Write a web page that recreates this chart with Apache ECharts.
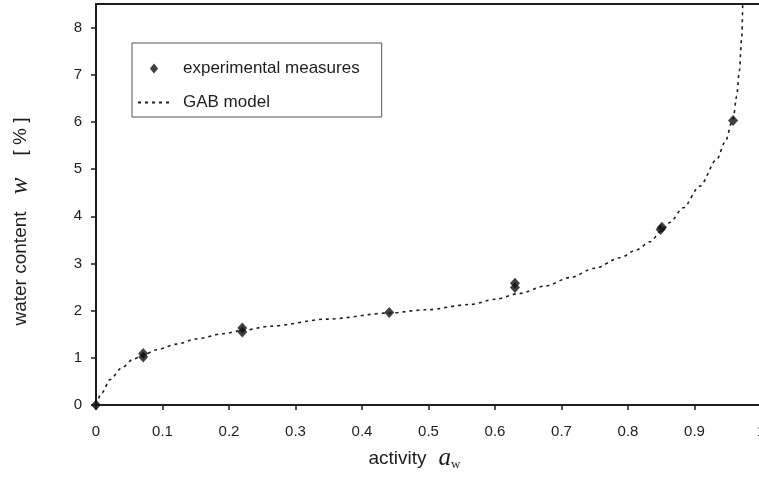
<!DOCTYPE html>
<html>
<head>
<meta charset="utf-8">
<script src="https://cdn.jsdelivr.net/npm/echarts@6/dist/echarts.min.js"></script>
<style>html,body{margin:0;padding:0;background:#fff}#c{width:759px;height:483px}</style>
</head>
<body>
<div id="c"></div>
<script>
// experimental measures [activity, water content %]
const measuresA = [0, 0.071, 0.071, 0.22, 0.22, 0.441, 0.63, 0.63, 0.849, 0.851, 0.958];
const measuresW = [0, 1.02, 1.09, 1.55, 1.63, 1.96, 2.49, 2.58, 3.72, 3.77, 6.03];
// GAB model curve
const modelA = [0, 0.009, 0.021, 0.039, 0.056, 0.071, 0.091, 0.121, 0.151, 0.191, 0.22, 0.262, 0.347, 0.441, 0.497, 0.5624, 0.600, 0.6376, 0.675, 0.7128, 0.75, 0.788, 0.813, 0.833, 0.851, 0.863, 0.883, 0.908, 0.934, 0.946, 0.958, 0.9635, 0.9674, 0.971, 0.9725];
const modelW = [0, 0.26, 0.54, 0.79, 0.97, 1.06, 1.17, 1.29, 1.40, 1.51, 1.58, 1.67, 1.82, 1.95, 2.02, 2.13, 2.24, 2.367, 2.52, 2.70, 2.90, 3.12, 3.29, 3.46, 3.70, 3.87, 4.18, 4.64, 5.22, 5.58, 6.06, 6.55, 7.08, 7.78, 8.5];
const xTicks = [0, 0.1, 0.2, 0.3, 0.4, 0.5, 0.6, 0.7, 0.8, 0.9, 1];
const yTicks = [0, 1, 2, 3, 4, 5, 6, 7, 8];

const chart = echarts.init(document.getElementById('c'));
const dark = '#1e1e1e';
const serif = 'Liberation Serif, Times New Roman, serif';
chart.setOption({
  animation: false,
  textStyle: { fontFamily: 'Liberation Sans, Arial, sans-serif', color: dark },
  grid: { left: 96, right: -2, top: 4, bottom: 78, containLabel: false, outerBoundsMode: 'none',
          show: true, borderColor: dark, borderWidth: 2, backgroundColor: 'transparent' },
  legend: {
    left: 132, top: 43, orient: 'vertical',
    padding: [17, 22, 6, 5],
    itemGap: 17, itemWidth: 32, itemHeight: 10,
    borderColor: '#555', borderWidth: 1,
    textStyle: { fontSize: 17, color: dark, padding: [0, 0, 0, 8] },
    data: [
      { name: 'experimental measures', icon: 'path://M5,0L9.5,5.5L5,11L0.5,5.5Z' },
      { name: 'GAB model', itemStyle: { opacity: 0 } }
    ]
  },
  xAxis: {
    type: 'value', min: 0, max: 1, interval: 0.1,
    name: 'activity{a|a}{w|w}', nameLocation: 'middle', nameGap: 41,
    nameTextStyle: {
      fontSize: 19, color: dark, padding: [0, 28, 0, 0],
      rich: {
        a: { fontFamily: serif, fontStyle: 'italic', fontSize: 25, padding: [0, 0, 0, 12], color: dark },
        w: { fontFamily: serif, fontSize: 13, verticalAlign: 'bottom', padding: [8, 0, 0, 0], color: dark }
      }
    },
    axisLine: { lineStyle: { color: dark, width: 2 } },
    axisTick: { show: true, inside: false, length: 5, lineStyle: { color: dark, width: 1.5 } },
    axisLabel: { fontSize: 15, color: dark, margin: 19, formatter: v => (xTicks.indexOf(+v.toFixed(1)) >= 0 ? String(+v.toFixed(1)) : '') },
    splitLine: { show: false }
  },
  yAxis: {
    type: 'value', min: 0, max: 8.5, interval: 1,
    name: 'water content {w|w}[ % ]', nameLocation: 'middle', nameGap: 63,
    nameTextStyle: {
      fontSize: 19, color: dark, padding: [0, 34, 0, 0],
      rich: {
        w: { fontFamily: serif, fontStyle: 'italic', fontSize: 25, padding: [0, 22, 0, 12], color: dark }
      }
    },
    axisLine: { show: true, lineStyle: { color: dark, width: 2 } },
    axisTick: { show: true, inside: false, length: 5, lineStyle: { color: dark, width: 1.5 } },
    axisLabel: { fontSize: 15, color: dark, margin: 14, showMaxLabel: false, formatter: v => (yTicks.indexOf(v) >= 0 ? String(v) : '') },
    splitLine: { show: false }
  },
  series: [
    {
      name: 'GAB model', type: 'line',
      data: modelA.map((a, i) => [a, modelW[i]]),
      symbol: 'none', smooth: 0.3, smoothMonotone: 'x',
      lineStyle: { color: dark, width: 1.6, type: [3, 4] },
      itemStyle: { color: dark },
      z: 2
    },
    {
      name: 'experimental measures', type: 'scatter',
      data: measuresA.map((a, i) => [a, measuresW[i]]),
      symbol: 'diamond', symbolSize: [10, 11],
      itemStyle: { color: '#111' },
      z: 3
    }
  ]
});
</script>
</body>
</html>
